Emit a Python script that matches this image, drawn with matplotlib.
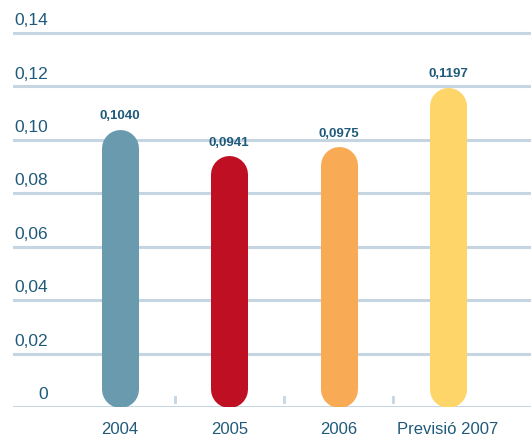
import matplotlib.pyplot as plt
import matplotlib.transforms as mtransforms

# Data
categories = ['2004', '2005', '2006', 'Previsió 2007']
values = [0.1040, 0.0941, 0.0975, 0.1197]
value_labels = ['0,1040', '0,0941', '0,0975', '0,1197']
colors = ['#6A9AAE', '#BE1022', '#F9AA55', '#FDD568']
y_ticks = [0, 0.02, 0.04, 0.06, 0.08, 0.10, 0.12, 0.14]
y_tick_labels = ['0', '0,02', '0,04', '0,06', '0,08', '0,10', '0,12', '0,14']

text_color = '#1F5A7A'
grid_color = '#C5D5E2'
plt.rcParams['font.family'] = ['Liberation Sans', 'DejaVu Sans']

fig = plt.figure(figsize=(5.31, 4.40), dpi=100)
ax = fig.add_axes([13 / 531, 33 / 440, 518 / 531, 387.4 / 440])
ax.set_xlim(-0.977, 3.758)
ax.set_ylim(0, 0.145)
ax.axis('off')

# grid lines
for t in y_ticks:
    ax.axhline(t, color=grid_color, lw=2.2, zorder=1)

# y labels above gridlines, right aligned
trans_lbl = mtransforms.blended_transform_factory(ax.transAxes, ax.transData)
off = mtransforms.offset_copy(trans_lbl, fig=fig, x=0, y=3.5, units='points')
for t, lab in zip(y_ticks, y_tick_labels):
    ax.text(0.0676, t, lab, transform=off, ha='right', va='bottom',
            fontsize=12.5, color=text_color)

# small tick marks between categories
for i in range(len(categories) - 1):
    ax.plot([i + 0.5, i + 0.5], [0.0018, 0.0038], color=grid_color, lw=2, zorder=1)

# rounded bars drawn as thick lines with round caps
bar_px = 37
lw_pt = bar_px * 72 / fig.dpi
px_per_unit_y = ax.transData.transform((0, 1))[1] - ax.transData.transform((0, 0))[1]
r = (bar_px / 2) / px_per_unit_y
for i, (v, c) in enumerate(zip(values, colors)):
    ax.plot([i, i], [r, v - r], color=c, lw=lw_pt, solid_capstyle='round', zorder=3)

# value labels
off_v = mtransforms.offset_copy(ax.transData, fig=fig, x=0, y=5, units='points')
for i, (v, lab) in enumerate(zip(values, value_labels)):
    ax.text(i, v, lab, transform=off_v, ha='center', va='bottom',
            fontsize=9.5, fontweight='bold', color=text_color)

# category labels
off_c = mtransforms.offset_copy(ax.transData, fig=fig, x=0, y=-16.5, units='points')
for i, cat in enumerate(categories):
    ax.text(i, 0, cat, transform=off_c, ha='center', va='center',
            fontsize=12, color=text_color)

fig.savefig('out.png', dpi=100)
